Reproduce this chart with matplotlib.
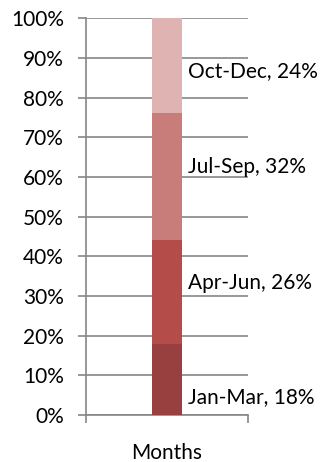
import matplotlib
matplotlib.use("Agg")
import matplotlib.pyplot as plt
from matplotlib.ticker import PercentFormatter

# quarterly share of the year, stacked bottom to top
quarters = ["Jan-Mar", "Apr-Jun", "Jul-Sep", "Oct-Dec"]
shares = [18, 26, 32, 24]
colors = ["#984040", "#B44D4A", "#C97D7B", "#DFB3B2"]
label_y = [4.5, 33.2, 62.5, 86.6]  # where each data label sits
category = "Months"

plt.rcParams["font.family"] = ["Lato", "DejaVu Sans"]
grey = "#868686"
fs = 15

fig = plt.figure(figsize=(3.34, 4.62), dpi=100)
ax = fig.add_axes([0.2575, 0.1017, 0.485, 0.859])

bottom = 0
for q, v, c, ly in zip(quarters, shares, colors, label_y):
    ax.bar(0, v, width=0.18, bottom=bottom, color=c, zorder=3)
    ax.text(0.13, ly, f"{q}, {v}%", fontsize=fs, va="center", ha="left",
            color="black", zorder=4)
    bottom += v

ax.set_xlim(-0.5, 0.5)
ax.set_ylim(0, 100)
ax.set_yticks(range(0, 101, 10))
ax.yaxis.set_major_formatter(PercentFormatter(decimals=0))
ax.grid(axis="y", color=grey, linewidth=1.2, zorder=1)

ax.set_xticks([-0.5, 0.5])
ax.set_xticklabels(["", ""])
ax.text(0, -9.5, category, transform=ax.transData, ha="center", va="center",
        fontsize=fs, clip_on=False)

for side in ["top", "right"]:
    ax.spines[side].set_visible(False)
for side in ["left", "bottom"]:
    ax.spines[side].set_color(grey)
    ax.spines[side].set_linewidth(1.2)
ax.tick_params(axis="y", length=6, width=1.2, color=grey, pad=10,
               labelsize=fs)
ax.tick_params(axis="x", length=6, width=1.2, color=grey)

fig.savefig("out.png", dpi=100)
